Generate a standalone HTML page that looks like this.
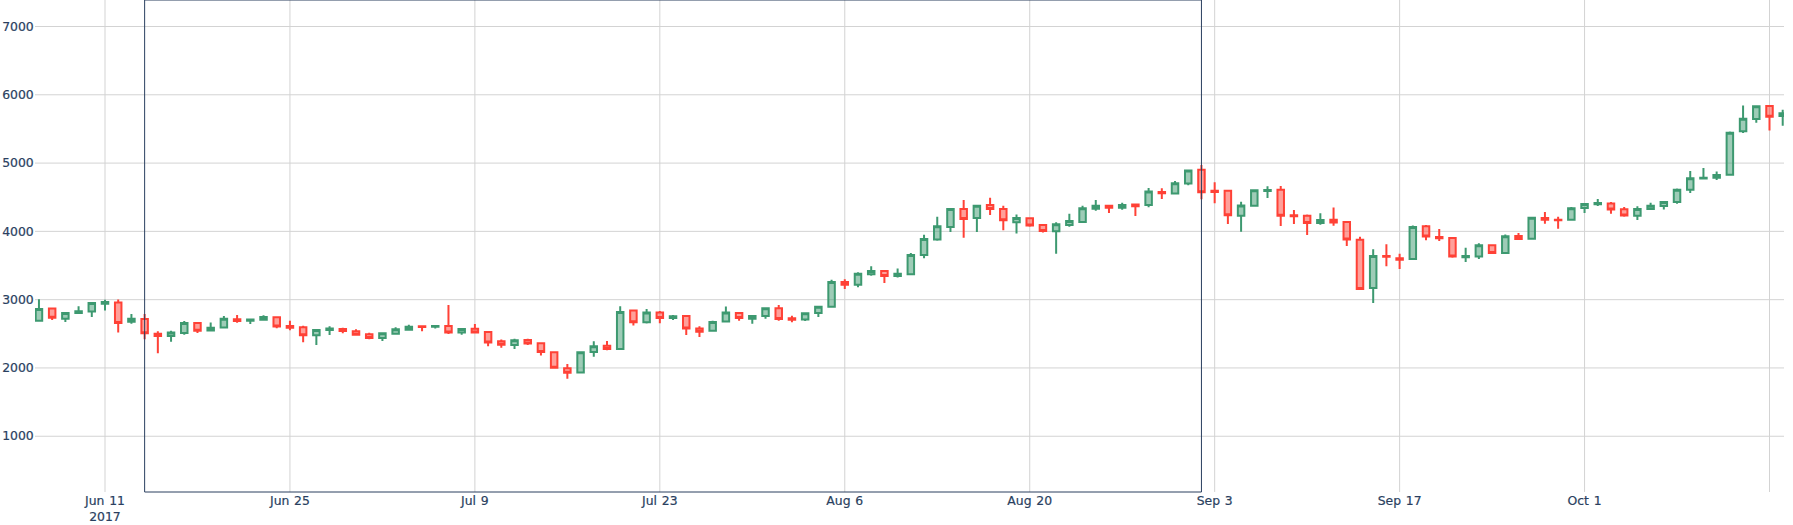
<!DOCTYPE html>
<html><head><meta charset="utf-8"><title>Candlestick</title>
<style>html,body{margin:0;padding:0;background:#fff;overflow:hidden}svg{display:block}
text{font-family:"DejaVu Sans","Liberation Sans",sans-serif;font-size:12.4px;fill:#2a3f5f;stroke:#2a3f5f;stroke-width:0.2px;word-spacing:0.8px}</style></head>
<body><svg width="1793" height="525" viewBox="0 0 1793 525">
<rect width="1793" height="525" fill="#fff"/>
<defs><clipPath id="cp"><rect x="35" y="0" width="1749" height="492"/></clipPath></defs>
<g><path d="M105.00,0V492" stroke="#d3d3d3" stroke-width="1" fill="none"/><path d="M289.94,0V492" stroke="#d3d3d3" stroke-width="1" fill="none"/><path d="M474.89,0V492" stroke="#d3d3d3" stroke-width="1" fill="none"/><path d="M659.83,0V492" stroke="#d3d3d3" stroke-width="1" fill="none"/><path d="M844.78,0V492" stroke="#d3d3d3" stroke-width="1" fill="none"/><path d="M1029.72,0V492" stroke="#d3d3d3" stroke-width="1" fill="none"/><path d="M1214.67,0V492" stroke="#d3d3d3" stroke-width="1" fill="none"/><path d="M1399.61,0V492" stroke="#d3d3d3" stroke-width="1" fill="none"/><path d="M1584.55,0V492" stroke="#d3d3d3" stroke-width="1" fill="none"/><path d="M1769.50,0V492" stroke="#d3d3d3" stroke-width="1" fill="none"/><path d="M35,436.24H1784" stroke="#d3d3d3" stroke-width="1" fill="none"/><path d="M35,367.95H1784" stroke="#d3d3d3" stroke-width="1" fill="none"/><path d="M35,299.66H1784" stroke="#d3d3d3" stroke-width="1" fill="none"/><path d="M35,231.37H1784" stroke="#d3d3d3" stroke-width="1" fill="none"/><path d="M35,163.08H1784" stroke="#d3d3d3" stroke-width="1" fill="none"/><path d="M35,94.79H1784" stroke="#d3d3d3" stroke-width="1" fill="none"/><path d="M35,26.50H1784" stroke="#d3d3d3" stroke-width="1" fill="none"/></g>
<g clip-path="url(#cp)">
<path d="M35.70,309.95H42.20M35.70,308.95H42.20V320.77H35.70ZM38.95,308.95V299.22M38.95,320.77V320.77M62.12,313.95H68.62M62.12,312.95H68.62V318.86H62.12ZM65.37,312.95V312.95M65.37,318.86V321.92M75.33,311.96H81.83M75.33,311.14H81.83V312.96H75.33ZM78.58,311.14V306.18M78.58,312.96V312.96M88.54,304.04H95.04M88.54,303.04H95.04V311.53H88.54ZM91.79,303.04V303.04M91.79,311.53V316.97M101.75,302.63H108.25M101.75,302.09H108.25V303.63H101.75ZM105.00,302.09V299.70M105.00,303.63V310.49M128.17,319.66H134.67M128.17,318.66H134.67V321.72H128.17ZM131.42,318.66V313.99M131.42,321.72V323.82M167.80,333.56H174.30M167.80,332.56H174.30V336.01H167.80ZM171.05,332.56V330.86M171.05,336.01V341.73M181.01,324.04H187.51M181.01,323.04H187.51V332.96H181.01ZM184.26,323.04V320.94M184.26,332.96V334.87M207.43,328.80H213.93M207.43,327.80H213.93V330.58H207.43ZM210.68,327.80V322.56M210.68,330.58V330.58M220.64,319.66H227.14M220.64,318.66H227.14V327.44H220.64ZM223.89,318.66V315.89M223.89,327.44V327.44M247.06,319.77H253.56M247.06,319.42H253.56V320.77H247.06ZM250.31,319.42V319.42M250.31,320.77V324.11M260.27,318.04H266.77M260.27,317.04H266.77V319.82H260.27ZM263.52,317.04V315.22M263.52,319.82V319.82M313.11,331.09H319.61M313.11,330.09H319.61V335.15H313.11ZM316.36,330.09V330.09M316.36,335.15V345.06M326.33,329.10H332.83M326.33,328.47H332.83V330.10H326.33ZM329.58,328.47V326.37M329.58,330.10V335.06M379.17,334.23H385.67M379.17,333.23H385.67V338.01H379.17ZM382.42,333.23V333.23M382.42,338.01V341.06M392.38,330.23H398.88M392.38,329.23H398.88V333.63H392.38ZM395.63,329.23V327.13M395.63,333.63V334.83M405.59,327.75H412.09M405.59,326.75H412.09V329.63H405.59ZM408.84,326.75V324.65M408.84,329.63V329.63M432.01,326.09H438.51M432.01,326.09H438.51V326.77H432.01ZM435.26,326.09V326.09M435.26,326.77V328.59M458.43,329.95H464.93M458.43,328.95H464.93V332.48H458.43ZM461.68,328.95V328.95M461.68,332.48V334.78M511.27,341.37H517.77M511.27,340.37H517.77V345.05H511.27ZM514.52,340.37V338.84M514.52,345.05V349.06M577.32,353.23H583.82M577.32,352.23H583.82V372.53H577.32ZM580.57,352.23V352.23M580.57,372.53V372.53M590.53,347.14H597.03M590.53,346.14H597.03V351.96H590.53ZM593.78,346.14V341.18M593.78,351.96V356.73M616.95,312.95H623.45M616.95,311.95H623.45V349.10H616.95ZM620.20,311.95V306.20M620.20,349.10V349.10M643.37,313.47H649.87M643.37,312.47H649.87V322.20H643.37ZM646.62,312.47V308.94M646.62,322.20V323.40M669.79,316.91H676.29M669.79,316.28H676.29V317.91H669.79ZM673.04,316.28V314.91M673.04,317.91V320.11M709.42,322.99H715.92M709.42,321.99H715.92V330.86H709.42ZM712.67,321.99V320.63M712.67,330.86V330.86M722.63,313.56H729.13M722.63,312.56H729.13V321.53H722.63ZM725.88,312.56V306.56M725.88,321.53V321.53M749.05,317.04H755.55M749.05,316.04H755.55V318.72H749.05ZM752.30,316.04V316.04M752.30,318.72V323.68M762.26,309.23H768.76M762.26,308.23H768.76V316.05H762.26ZM765.51,308.23V308.23M765.51,316.05V318.63M801.90,314.18H808.40M801.90,313.18H808.40V319.39H801.90ZM805.15,313.18V313.18M805.15,319.39V320.92M815.11,307.80H821.61M815.11,306.80H821.61V312.91H815.11ZM818.36,306.80V306.80M818.36,312.91V316.92M828.32,283.04H834.82M828.32,282.04H834.82V306.82H828.32ZM831.57,282.04V279.75M831.57,306.82V306.82M854.74,274.75H861.24M854.74,273.75H861.24V284.85H854.74ZM857.99,273.75V272.17M857.99,284.85V287.20M867.95,272.09H874.45M867.95,271.09H874.45V274.15H867.95ZM871.20,271.09V266.13M871.20,274.15V275.68M894.37,274.66H900.87M894.37,273.66H900.87V276.05H894.37ZM897.62,273.66V268.51M897.62,276.05V277.59M907.58,255.90H914.08M907.58,254.90H914.08V274.15H907.58ZM910.83,254.90V253.08M910.83,274.15V274.15M920.79,239.95H927.29M920.79,238.95H927.29V255.10H920.79ZM924.04,238.95V234.70M924.04,255.10V258.20M934.00,227.14H940.50M934.00,226.14H940.50V239.58H934.00ZM937.25,226.14V216.80M937.25,239.58V240.78M947.21,209.99H953.71M947.21,208.99H953.71V227.01H947.21ZM950.46,208.99V208.99M950.46,227.01V231.97M973.63,206.75H980.13M973.63,205.75H980.13V217.96H973.63ZM976.88,205.75V205.75M976.88,217.96V231.97M1013.26,218.95H1019.76M1013.26,217.95H1019.76V222.25H1013.26ZM1016.51,217.95V214.51M1016.51,222.25V233.40M1052.89,225.23H1059.39M1052.89,224.23H1059.39V231.29H1052.89ZM1056.14,224.23V222.32M1056.14,231.29V253.68M1066.10,222.09H1072.60M1066.10,221.09H1072.60V225.10H1066.10ZM1069.35,221.09V213.75M1069.35,225.10V226.64M1079.31,209.25H1085.81M1079.31,208.25H1085.81V221.95H1079.31ZM1082.56,208.25V205.70M1082.56,221.95V221.95M1092.52,206.85H1099.02M1092.52,205.85H1099.02V208.72H1092.52ZM1095.77,205.85V199.94M1095.77,208.72V210.82M1118.94,206.09H1125.44M1118.94,205.09H1125.44V207.77H1118.94ZM1122.19,205.09V202.80M1122.19,207.77V209.87M1145.36,192.56H1151.86M1145.36,191.56H1151.86V204.91H1145.36ZM1148.61,191.56V188.03M1148.61,204.91V207.20M1171.78,184.18H1178.28M1171.78,183.18H1178.28V193.48H1171.78ZM1175.03,183.18V181.08M1175.03,193.48V193.48M1184.99,171.42H1191.49M1184.99,170.42H1191.49V183.48H1184.99ZM1188.24,170.42V170.42M1188.24,183.48V185.30M1237.84,206.45H1244.34M1237.84,205.45H1244.34V215.85H1237.84ZM1241.09,205.45V201.80M1241.09,215.85V231.70M1251.05,191.18H1257.55M1251.05,190.18H1257.55V205.82H1251.05ZM1254.30,190.18V190.18M1254.30,205.82V205.82M1264.26,190.05H1270.76M1264.26,189.90H1270.76V191.05H1264.26ZM1267.51,189.90V186.18M1267.51,191.05V197.92M1317.10,221.09H1323.60M1317.10,220.09H1323.60V222.96H1317.10ZM1320.35,220.09V213.22M1320.35,222.96V224.87M1369.94,257.05H1376.44M1369.94,256.05H1376.44V287.95H1369.94ZM1373.19,256.05V249.20M1373.19,287.95V302.90M1409.57,228.09H1416.07M1409.57,227.09H1416.07V258.91H1409.57ZM1412.82,227.09V225.55M1412.82,258.91V258.91M1462.41,256.20H1468.91M1462.41,256.04H1468.91V257.20H1462.41ZM1465.66,256.04V247.84M1465.66,257.20V261.97M1475.62,246.37H1482.12M1475.62,245.37H1482.12V256.53H1475.62ZM1478.87,245.37V243.27M1478.87,256.53V258.92M1502.04,237.14H1508.54M1502.04,236.14H1508.54V252.91H1502.04ZM1505.29,236.14V234.44M1505.29,252.91V252.91M1528.46,218.75H1534.96M1528.46,217.75H1534.96V238.63H1528.46ZM1531.71,217.75V217.75M1531.71,238.63V238.63M1568.09,209.23H1574.59M1568.09,208.23H1574.59V219.86H1568.09ZM1571.34,208.23V207.03M1571.34,219.86V219.86M1581.30,204.95H1587.80M1581.30,203.95H1587.80V207.96H1581.30ZM1584.55,203.95V203.95M1584.55,207.96V212.92M1594.51,203.15H1601.01M1594.51,202.99H1601.01V204.15H1594.51ZM1597.76,202.99V198.99M1597.76,204.15V205.97M1634.14,209.90H1640.64M1634.14,208.90H1640.64V215.85H1634.14ZM1637.39,208.90V206.20M1637.39,215.85V220.00M1647.36,206.85H1653.86M1647.36,205.85H1653.86V209.10H1647.36ZM1650.61,205.85V202.80M1650.61,209.10V209.10M1660.57,203.04H1667.07M1660.57,202.04H1667.07V206.05H1660.57ZM1663.82,202.04V202.04M1663.82,206.05V209.59M1673.78,190.66H1680.28M1673.78,189.66H1680.28V202.05H1673.78ZM1677.03,189.66V188.46M1677.03,202.05V203.87M1686.99,179.23H1693.49M1686.99,178.23H1693.49V189.67H1686.99ZM1690.24,178.23V170.89M1690.24,189.67V192.92M1700.20,177.75H1706.70M1700.20,177.75H1706.70V178.44H1700.20ZM1703.45,177.75V168.03M1703.45,178.44V178.44M1713.41,175.90H1719.91M1713.41,174.90H1719.91V177.67H1713.41ZM1716.66,174.90V171.56M1716.66,177.67V180.06M1726.62,133.65H1733.12M1726.62,132.65H1733.12V174.65H1726.62ZM1729.87,132.65V131.42M1729.87,174.65V174.65M1739.83,119.75H1746.33M1739.83,118.75H1746.33V131.15H1739.83ZM1743.08,118.75V105.51M1743.08,131.15V133.06M1753.04,107.18H1759.54M1753.04,106.18H1759.54V119.05H1753.04ZM1756.29,106.18V106.18M1756.29,119.05V122.78M1779.46,114.33H1785.96M1779.46,113.33H1785.96V115.91H1779.46ZM1782.71,113.33V109.80M1782.71,115.91V125.82" fill="rgba(61,153,112,0.5)" stroke="#3D9970" stroke-width="2"/>
<path d="M48.91,316.72H55.41M48.91,308.47H55.41V317.72H48.91ZM52.16,308.47V308.47M52.16,317.72V320.01M114.96,321.96H121.46M114.96,302.47H121.46V322.96H114.96ZM118.21,302.47V299.51M118.21,322.96V332.40M141.38,332.15H147.88M141.38,318.95H147.88V333.15H141.38ZM144.63,318.95V313.99M144.63,333.15V339.35M154.59,335.01H161.09M154.59,333.71H161.09V336.01H154.59ZM157.84,333.71V331.13M157.84,336.01V353.35M194.22,329.86H200.72M194.22,323.04H200.72V330.86H194.22ZM197.47,323.04V323.04M197.47,330.86V332.97M233.85,320.23H240.35M233.85,319.23H240.35V321.05H233.85ZM237.10,319.23V314.94M237.10,321.05V322.87M273.48,325.48H279.98M273.48,317.33H279.98V326.48H273.48ZM276.73,317.33V316.13M276.73,326.48V328.18M286.69,327.09H293.19M286.69,326.09H293.19V327.72H286.69ZM289.94,326.09V320.84M289.94,327.72V330.30M299.90,334.15H306.40M299.90,327.33H306.40V335.15H299.90ZM303.15,327.33V325.63M303.15,335.15V342.20M339.54,330.05H346.04M339.54,328.95H346.04V331.05H339.54ZM342.79,328.95V327.75M342.79,331.05V333.16M352.75,333.86H359.25M352.75,331.14H359.25V334.86H352.75ZM356.00,331.14V329.22M356.00,334.86V334.86M365.96,337.01H372.46M365.96,334.18H372.46V338.01H365.96ZM369.21,334.18V332.65M369.21,338.01V339.37M418.80,326.96H425.30M418.80,326.37H425.30V326.96H418.80ZM422.05,326.37V325.17M422.05,326.96V331.25M445.22,331.48H451.72M445.22,326.09H451.72V332.48H445.22ZM448.47,326.09V304.94M448.47,332.48V334.02M471.64,331.48H478.14M471.64,328.75H478.14V332.48H471.64ZM474.89,328.75V323.99M474.89,332.48V332.48M484.85,341.48H491.35M484.85,331.99H491.35V342.48H484.85ZM488.10,331.99V331.99M488.10,342.48V346.20M498.06,343.86H504.56M498.06,341.33H504.56V344.86H498.06ZM501.31,341.33V339.51M501.31,344.86V347.73M524.48,342.44H530.98M524.48,340.09H530.98V343.44H524.48ZM527.73,340.09V338.72M527.73,343.44V344.97M537.69,350.96H544.19M537.69,343.18H544.19V351.96H537.69ZM540.94,343.18V343.18M540.94,351.96V355.49M550.90,366.67H557.40M550.90,352.23H557.40V367.67H550.90ZM554.15,352.23V352.23M554.15,367.67V367.67M564.11,371.72H570.61M564.11,368.23H570.61V372.72H564.11ZM567.36,368.23V364.03M567.36,372.72V378.63M603.74,348.10H610.24M603.74,345.66H610.24V349.10H603.74ZM606.99,345.66V340.89M606.99,349.10V350.30M630.16,321.20H636.66M630.16,310.56H636.66V322.20H630.16ZM633.41,310.56V310.56M633.41,322.20V325.54M656.58,316.91H663.08M656.58,312.47H663.08V317.91H656.58ZM659.83,312.47V311.10M659.83,317.91V323.16M683.00,327.48H689.50M683.00,316.09H689.50V328.48H683.00ZM686.25,316.09V316.09M686.25,328.48V335.06M696.21,330.82H702.71M696.21,328.47H702.71V331.82H696.21ZM699.46,328.47V326.18M699.46,331.82V336.97M735.84,317.01H742.34M735.84,312.95H742.34V318.01H735.84ZM739.09,312.95V312.95M739.09,318.01V320.78M775.48,317.91H781.98M775.48,308.23H781.98V318.91H775.48ZM778.73,308.23V304.99M778.73,318.91V320.82M788.69,319.23H795.19M788.69,318.23H795.19V319.67H788.69ZM791.94,318.23V315.84M791.94,319.67V322.16M841.53,283.82H848.03M841.53,282.04H848.03V284.82H841.53ZM844.78,282.04V279.27M844.78,284.82V288.92M881.16,275.05H887.66M881.16,270.90H887.66V276.05H881.16ZM884.41,270.90V270.90M884.41,276.05V282.92M960.42,218.10H966.92M960.42,208.90H966.92V219.10H960.42ZM963.67,208.90V199.94M963.67,219.10V237.87M986.84,207.91H993.34M986.84,204.90H993.34V208.91H986.84ZM990.09,204.90V197.84M990.09,208.91V215.01M1000.05,219.34H1006.55M1000.05,208.90H1006.55V220.34H1000.05ZM1003.30,208.90V205.65M1003.30,220.34V230.35M1026.47,224.39H1032.97M1026.47,218.23H1032.97V225.39H1026.47ZM1029.72,218.23V218.23M1029.72,225.39V226.75M1039.68,230.10H1046.18M1039.68,225.09H1046.18V231.10H1039.68ZM1042.93,225.09V225.09M1042.93,231.10V232.47M1105.73,206.67H1112.23M1105.73,205.66H1112.23V207.67H1105.73ZM1108.98,205.66V205.66M1108.98,207.67V213.11M1132.15,205.60H1138.65M1132.15,204.60H1138.65V206.15H1132.15ZM1135.40,204.60V204.60M1135.40,206.15V216.00M1158.57,193.04H1165.07M1158.57,192.04H1165.07V193.20H1158.57ZM1161.82,192.04V188.32M1161.82,193.20V199.11M1198.20,191.15H1204.70M1198.20,169.85H1204.70V192.15H1198.20ZM1201.45,169.85V164.90M1201.45,192.15V199.20M1211.42,191.85H1217.92M1211.42,190.85H1217.92V192.01H1211.42ZM1214.67,190.85V182.37M1214.67,192.01V203.16M1224.63,214.15H1231.13M1224.63,190.85H1231.13V215.15H1224.63ZM1227.88,190.85V190.85M1227.88,215.15V224.11M1277.47,214.82H1283.97M1277.47,189.71H1283.97V215.82H1277.47ZM1280.72,189.71V185.89M1280.72,215.82V226.01M1290.68,216.29H1297.18M1290.68,215.33H1297.18V216.29H1290.68ZM1293.93,215.33V209.99M1293.93,216.29V223.92M1303.89,221.95H1310.39M1303.89,215.65H1310.39V222.95H1303.89ZM1307.14,215.65V214.42M1307.14,222.95V234.90M1330.31,221.48H1336.81M1330.31,219.71H1336.81V222.48H1330.31ZM1333.56,219.71V207.60M1333.56,222.48V225.82M1343.52,238.45H1350.02M1343.52,222.05H1350.02V239.45H1343.52ZM1346.77,222.05V222.05M1346.77,239.45V246.00M1356.73,287.95H1363.23M1356.73,239.70H1363.23V288.95H1356.73ZM1359.98,239.70V236.70M1359.98,288.95V288.95M1383.15,256.85H1389.65M1383.15,256.05H1389.65V256.85H1383.15ZM1386.40,256.05V244.20M1386.40,256.85V266.25M1396.36,259.25H1402.86M1396.36,258.25H1402.86V259.85H1396.36ZM1399.61,258.25V253.75M1399.61,259.85V269.10M1422.78,235.53H1429.28M1422.78,226.14H1429.28V236.53H1422.78ZM1426.03,226.14V224.94M1426.03,236.53V240.25M1435.99,237.99H1442.49M1435.99,236.99H1442.49V238.15H1435.99ZM1439.24,236.99V228.99M1439.24,238.15V241.01M1449.20,255.53H1455.70M1449.20,238.04H1455.70V256.53H1449.20ZM1452.45,238.04V238.04M1452.45,256.53V257.73M1488.83,251.91H1495.33M1488.83,245.18H1495.33V252.91H1488.83ZM1492.08,245.18V245.18M1492.08,252.91V252.91M1515.25,237.91H1521.75M1515.25,236.04H1521.75V238.91H1515.25ZM1518.50,236.04V232.99M1518.50,238.91V238.91M1541.67,218.95H1548.17M1541.67,217.95H1548.17V219.67H1541.67ZM1544.92,217.95V212.03M1544.92,219.67V223.87M1554.88,220.34H1561.38M1554.88,219.66H1561.38V220.34H1554.88ZM1558.13,219.66V216.80M1558.13,220.34V228.82M1607.72,208.58H1614.22M1607.72,203.47H1614.22V209.58H1607.72ZM1610.97,203.47V201.94M1610.97,209.58V213.87M1620.93,214.58H1627.43M1620.93,209.18H1627.43V215.58H1620.93ZM1624.18,209.18V207.08M1624.18,215.58V216.78M1766.25,115.86H1772.75M1766.25,105.90H1772.75V116.86H1766.25ZM1769.50,105.90V105.90M1769.50,116.86V130.40" fill="rgba(255,65,54,0.5)" stroke="#FF4136" stroke-width="2"/>
</g>
<g><path d="M144.63,492H1201.45V0H144.63Z" fill="none" stroke="#2a3f5f" stroke-width="1"/></g>
<g><text x="105.0" y="505.4" text-anchor="middle">Jun 11<tspan x="105.0" dy="15.6">2017</tspan></text><text x="289.9442" y="505.4" text-anchor="middle">Jun 25</text><text x="474.8884" y="505.4" text-anchor="middle">Jul 9</text><text x="659.8326" y="505.4" text-anchor="middle">Jul 23</text><text x="844.7768" y="505.4" text-anchor="middle">Aug 6</text><text x="1029.721" y="505.4" text-anchor="middle">Aug 20</text><text x="1214.6652" y="505.4" text-anchor="middle">Sep 3</text><text x="1399.6094" y="505.4" text-anchor="middle">Sep 17</text><text x="1584.5536" y="505.4" text-anchor="middle">Oct 1</text><text x="33.7" y="440.44" text-anchor="end">1000</text><text x="33.7" y="372.15" text-anchor="end">2000</text><text x="33.7" y="303.86" text-anchor="end">3000</text><text x="33.7" y="235.57" text-anchor="end">4000</text><text x="33.7" y="167.28" text-anchor="end">5000</text><text x="33.7" y="98.99" text-anchor="end">6000</text><text x="33.7" y="30.70" text-anchor="end">7000</text></g>
</svg></body></html>
